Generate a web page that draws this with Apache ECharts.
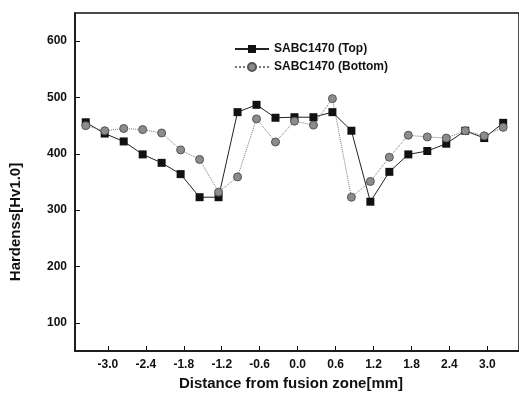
<!DOCTYPE html>
<html>
<head>
<meta charset="utf-8">
<script src="https://cdn.jsdelivr.net/npm/echarts@6/dist/echarts.min.js"></script>
<style>
  html, body { margin: 0; padding: 0; background: #fff; }
  #chart { width: 519px; height: 403px; }
</style>
</head>
<body>
<div id="chart"></div>
<script>
// distance from fusion zone [mm]
const distance = [-3.35, -3.05, -2.75, -2.45, -2.15, -1.85, -1.55, -1.25, -0.95, -0.65, -0.35, -0.05,
  0.25, 0.55, 0.85, 1.15, 1.45, 1.75, 2.05, 2.35, 2.65, 2.95, 3.25];
const topHardness = [456, 436, 422, 399, 384, 364, 323, 323, 474, 487, 464, 465,
  465, 474, 441, 315, 368, 399, 405, 418, 441, 428, 455];
const bottomHardness = [450, 441, 445, 443, 437, 407, 390, 332, 359, 462, 421, 458,
  451, 498, 323, 351, 394, 433, 430, 428, 441, 432, 447];
const xTicks = [-3.0, -2.4, -1.8, -1.2, -0.6, 0.0, 0.6, 1.2, 1.8, 2.4, 3.0];
const yTicks = [100, 200, 300, 400, 500, 600];

const font = 'Liberation Sans, Arial, sans-serif';
const chart = echarts.init(document.getElementById('chart'));

const pairs = (ys) => distance.map((x, i) => [x, ys[i]]);

chart.setOption({
  animation: false,
  backgroundColor: '#fff',
  grid: {
    left: 75, top: 13, right: -6, bottom: 52,
    show: true, borderColor: '#111', borderWidth: 1.5
  },
  legend: {
    left: 229, top: 38, orient: 'vertical', itemGap: 6,
    itemWidth: 34, itemHeight: 10,
    textStyle: { fontFamily: font, fontWeight: 'bold', fontSize: 12, color: '#111' },
    data: ['SABC1470 (Top)', 'SABC1470 (Bottom)']
  },
  xAxis: {
    type: 'value', min: -3.52, max: 3.5,
    axisLine: { onZero: false, lineStyle: { color: '#111', width: 1.5 } },
    splitLine: { show: false },
    axisTick: { inside: true, length: 5, customValues: xTicks, lineStyle: { color: '#111' } },
    axisLabel: {
      customValues: xTicks, margin: 8, color: '#111',
      fontFamily: font, fontWeight: 'bold', fontSize: 12,
      formatter: (v) => v.toFixed(1)
    }
  },
  yAxis: {
    type: 'value', min: 50, max: 650,
    axisLine: { show: true, onZero: false, lineStyle: { color: '#111', width: 1.5 } },
    splitLine: { show: false },
    axisTick: { show: true, inside: true, length: 5, customValues: yTicks, lineStyle: { color: '#111' } },
    axisLabel: {
      customValues: yTicks, margin: 8, color: '#111',
      fontFamily: font, fontWeight: 'bold', fontSize: 12
    }
  },
  graphic: [
    {
      type: 'text', x: 16, y: 222, rotation: Math.PI / 2,
      style: {
        text: 'Hardenss[Hv1.0]', fill: '#111', align: 'center', verticalAlign: 'middle',
        font: 'bold 15px ' + font
      }
    },
    {
      type: 'text', x: 291, y: 384,
      style: {
        text: 'Distance from fusion zone[mm]', fill: '#111', align: 'center', verticalAlign: 'middle',
        font: 'bold 15px ' + font
      }
    }
  ],
  series: [
    {
      name: 'SABC1470 (Top)', type: 'line', data: pairs(topHardness),
      symbol: 'rect', symbolSize: 8,
      itemStyle: { color: '#111' },
      lineStyle: { color: '#222', width: 1 }
    },
    {
      name: 'SABC1470 (Bottom)', type: 'line', data: pairs(bottomHardness),
      symbol: 'circle', symbolSize: 8,
      itemStyle: { color: '#8c8c8c', borderColor: '#555', borderWidth: 1 },
      lineStyle: { color: '#777', width: 1, type: 'dotted' }
    }
  ]
});
</script>
</body>
</html>
